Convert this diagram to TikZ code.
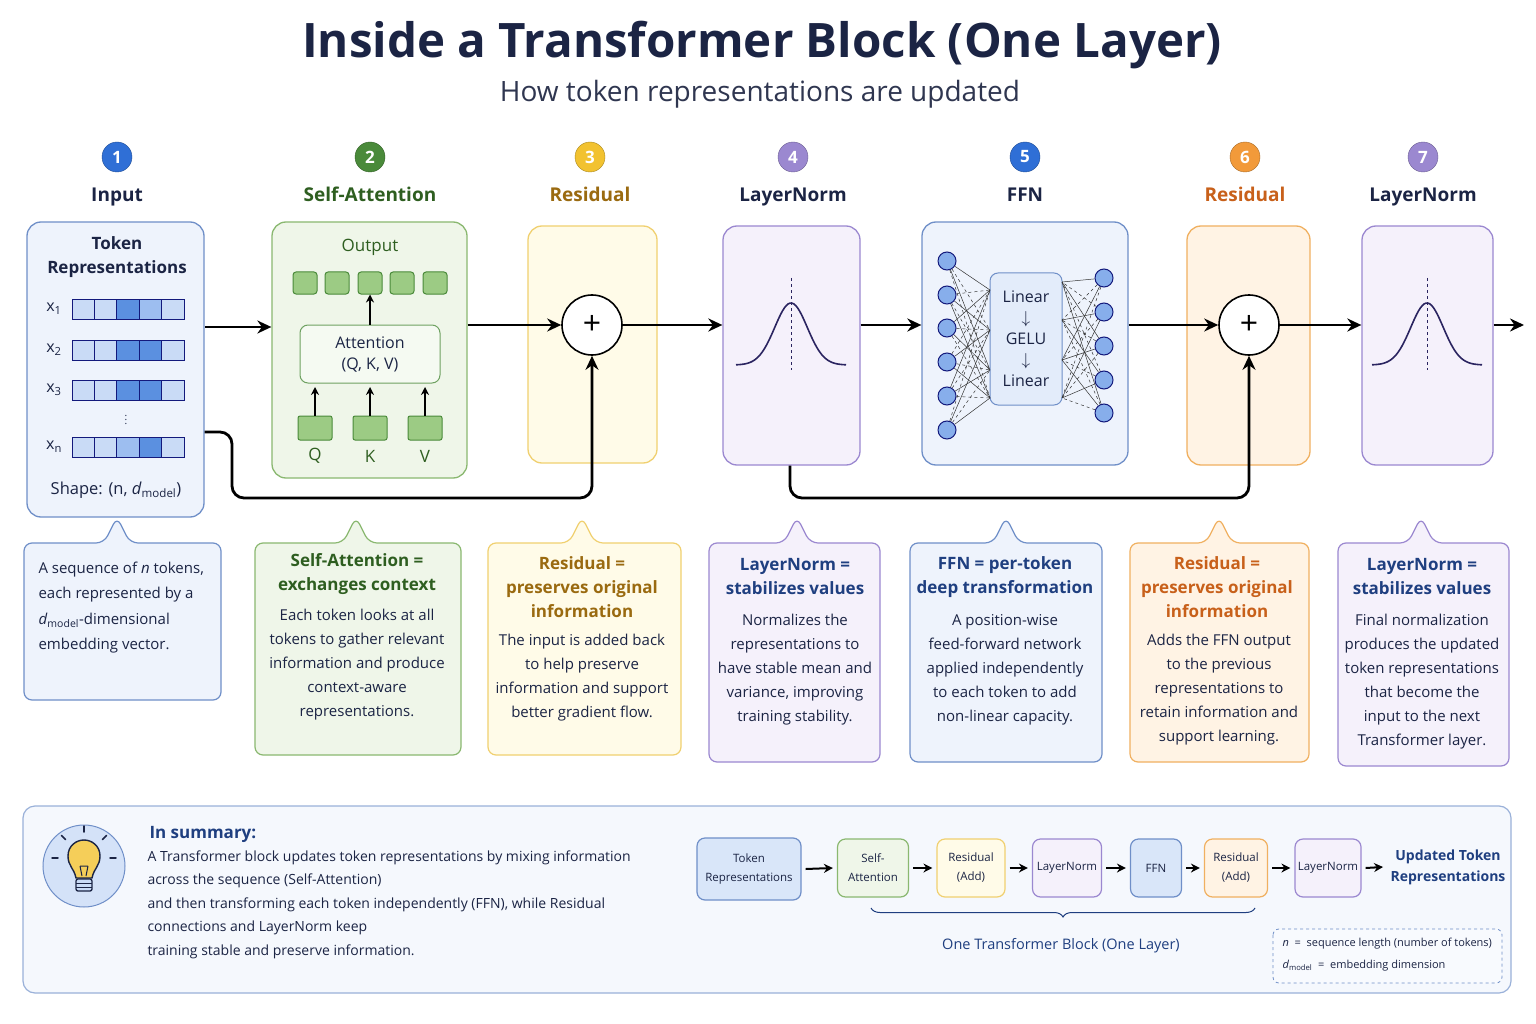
\documentclass[tikz,border=0pt]{standalone}
\usepackage{fontspec}
\setmainfont{Open Sans}
\usetikzlibrary{arrows.meta,calc,decorations.pathreplacing}
\definecolor{navy}{HTML}{1B2444}
\definecolor{bS}{HTML}{6F8FC8}\definecolor{bF}{HTML}{EEF3FC}
\definecolor{gS}{HTML}{8AB870}\definecolor{gF}{HTML}{EFF6E9}
\definecolor{yS}{HTML}{F0D070}\definecolor{yF}{HTML}{FFFBE8}
\definecolor{pS}{HTML}{9B88D0}\definecolor{pF}{HTML}{F5F1FB}
\definecolor{oS}{HTML}{F0B060}\definecolor{oF}{HTML}{FFF3E4}
\definecolor{cB}{HTML}{2F6FD6}\definecolor{cG}{HTML}{4A8A3A}\definecolor{cY}{HTML}{F2C230}
\definecolor{cP}{HTML}{9B88D0}\definecolor{cO}{HTML}{F29A3A}
\definecolor{tG}{HTML}{2E5E20}\definecolor{tY}{HTML}{9A6A10}\definecolor{tO}{HTML}{C8601A}
\definecolor{tB}{HTML}{1F3F80}\definecolor{tP}{HTML}{2A2460}
\definecolor{c1}{HTML}{C9DBF6}\definecolor{c2}{HTML}{9DBEF0}\definecolor{c3}{HTML}{5B90E0}
\definecolor{gB}{HTML}{9CCB84}
\begin{document}
\begin{tikzpicture}[x=1pt,y=-1pt,
 arr/.style={-{Stealth[length=14pt,width=13pt]},line width=2.8pt,black},
 sarr/.style={-{Stealth[length=8pt,width=8pt]},line width=1.8pt,black},
 num/.style={circle,minimum size=30pt,inner sep=0,text=white,font=\fontsize{17}{17}\selectfont\bfseries},
 hdr/.style={font=\fontsize{19}{19}\selectfont\bfseries},
 panel/.style={rounded corners=14pt,line width=1.3pt},
 desc/.style={align=center,font=\fontsize{15}{24}\selectfont,text=navy},
 dhd/.style={align=center,font=\fontsize{17}{24}\selectfont\bfseries},
 fb/.style={rounded corners=8pt,line width=1.2pt,minimum height=58pt,align=center,font=\fontsize{11.5}{19}\selectfont,text=navy,inner sep=1pt},
]
\useasboundingbox (0,0) rectangle (1536,1024);
\fill[white] (0,0) rectangle (1536,1024);
\node[font=\fontsize{47.5}{48}\selectfont\bfseries,text=navy] (title) at (762,45) {Inside a Transformer Block (One Layer)};
\node[font=\fontsize{28}{28}\selectfont,text=navy!80!gray] (sub) at (760,94) {How token representations are updated};
% numbers and headers
\foreach \x/\n/\c/\t/\tc in {117/1/cB/Input/navy,370/2/cG/Self-Attention/tG,590/3/cY/Residual/tY,793/4/cP/LayerNorm/navy,1025/5/cB/FFN/navy,1245/6/cO/Residual/tO,1423/7/cP/LayerNorm/navy}{
 \node[num,fill=\c,draw=\c!70!black] (n\n) at (\x,157) {\n};
 \node[hdr,text=\tc,anchor=base] (h\n) at (\x,202) {\t};}
% panels
\node[panel,draw=bS,fill=bF,minimum width=177pt,minimum height=295pt] (inp) at (115.5,369.5) {};
\node[panel,draw=gS,fill=gF,minimum width=195pt,minimum height=256pt] (sa) at (369.5,350) {};
\node[panel,draw=yS,fill=yF,minimum width=129pt,minimum height=237pt] (res1) at (592.5,344.5) {};
\node[panel,draw=pS,fill=pF,minimum width=137pt,minimum height=239pt] (ln1) at (791.5,345.5) {};
\node[panel,draw=bS,fill=bF,minimum width=206pt,minimum height=243pt] (ffn) at (1025,343.5) {};
\node[panel,draw=oS,fill=oF,minimum width=123pt,minimum height=239pt] (res2) at (1248.5,345.5) {};
\node[panel,draw=pS,fill=pF,minimum width=131pt,minimum height=239pt] (ln2) at (1427.5,345.5) {};
% input content
\node[align=center,font=\fontsize{17}{24}\selectfont\bfseries,text=navy] (tr) at (117,257) {Token\\Representations};
\foreach \y/\s/\a/\b/\c/\d/\e in {309/1/c1/c1/c3/c2/c1,350/2/c1/c1/c3/c3/c1,390/3/c1/c1/c3/c3/c1,447/n/c1/c1/c2/c3/c1}{
 \node[font=\fontsize{16}{16}\selectfont,text=navy] (x\s) at (54,\y) {x\textsubscript{\s}};
 \foreach \i/\cc in {0/\a,1/\b,2/\c,3/\d,4/\e}{\filldraw[fill=\cc,draw=navy!70!blue,line width=1pt] (72+\i*22.4,\y-10) rectangle (72+\i*22.4+22.4,\y+10);}}
\node[text=navy] (dots) at (126,417) {$\vdots$};
\node[font=\fontsize{16.5}{17}\selectfont,text=navy] (shape) at (116,490) {Shape: (n, \textit{d}\textsubscript{model})};
% SA content
\node[font=\fontsize{17}{17}\selectfont,text=tG] (out) at (370,247) {Output};
\foreach \x [count=\i] in {305,337,370,402,435}{\node[draw=cG,fill=gB,rounded corners=3pt,minimum width=24pt,minimum height=22pt,line width=1pt] (o\i) at (\x,283) {};}
\node[draw=cG!80,fill=gF!60!white,rounded corners=8pt,minimum width=140pt,minimum height=58pt,align=center,font=\fontsize{16}{21}\selectfont,text=navy,line width=1pt] (att) at (370,354) {Attention\\(Q, K, V)};
\draw[sarr] (att.north) -- (o3.south);
\foreach \x/\l in {315/Q,370/K,425/V}{
 \node[draw=cG,fill=gB,minimum width=34pt,minimum height=24pt,line width=1pt,rounded corners=2pt] (b\l) at (\x,428) {};
 \node[font=\fontsize{17}{17}\selectfont,text=tG] (t\l) at (\x,456) {\l};
 \draw[sarr] (b\l.north) -- (\x,387);}
% plus nodes
\node[circle,draw=black,fill=white,line width=1.6pt,minimum size=60pt,font=\fontsize{32}{32}\selectfont] (p1) at (592,325) {+};
\node[circle,draw=black,fill=white,line width=1.6pt,minimum size=60pt,font=\fontsize{32}{32}\selectfont] (p2) at (1249,325) {+};
% gaussians
\foreach \cx/\nm in {791/g1,1427/g2}{
 \coordinate (\nm) at (\cx,305);
 \draw[line width=1.6pt,color=tP,domain=-55:55,samples=60] plot ({\cx+\x},{365-62*exp(-(\x/23)^2)});
 \draw[dashed,line width=1pt,color=tP] (\cx,278) -- (\cx,370);}
% FFN
\node[draw=bS,fill=bF!70!c1,rounded corners=8pt,minimum width=72pt,minimum height=132pt,line width=1pt,align=center,font=\fontsize{16}{21}\selectfont,text=navy] (mid) at (1026,339) {Linear\\$\downarrow$\\GELU\\$\downarrow$\\Linear};
\foreach \y [count=\i] in {261,295,328,362,396,430}{\node[circle,draw=navy!70!blue,fill=c2!80!cB,minimum size=18pt,inner sep=0,line width=1pt] (L\i) at (947,\y) {};}
\foreach \y [count=\i] in {278,312,346,380,413}{\node[circle,draw=navy!70!blue,fill=c2!80!cB,minimum size=18pt,inner sep=0,line width=1pt] (R\i) at (1104,\y) {};}
\foreach \i in {1,...,6}{\foreach \t [count=\j] in {290,330,370,398}{
 \pgfmathparse{mod(\i+\j,2)==0?"solid":"dashed"}\edef\st{\pgfmathresult}
 \draw[\st,line width=0.5pt,black!80] (L\i) -- (990,\t);}}
\foreach \i in {1,...,5}{\foreach \t [count=\j] in {282,320,360,398}{
 \pgfmathparse{mod(\i+\j,2)==0?"solid":"dashed"}\edef\st{\pgfmathresult}
 \draw[\st,line width=0.5pt,black!80] (R\i) -- (1062,\t);}}
% main arrows
\draw[arr] (205,327) -- (sa.west|-205,327);
\draw[arr] (sa.east|-0,325) -- (p1.west);
\draw[arr] (p1.east) -- (ln1.west|-0,325);
\draw[arr] (ln1.east|-0,325) -- (ffn.west|-0,325);
\draw[arr] (ffn.east|-0,325) -- (p2.west);
\draw[arr] (p2.east) -- (ln2.west|-0,325);
\coordinate (end) at (1524,325);
\draw[arr] (ln2.east|-0,325) -- (end);
\draw[arr,rounded corners=12pt] (inp.east|-0,432) -- (232,432) -- (232,498) -- (592,498) -- (p1.south);
\draw[arr,rounded corners=12pt] (ln1.south-|790,0) -- (790,498) -- (1249,498) -- (p2.south);
% callouts
\newcommand\callout[7]{\draw[fill=#6,draw=#7,line width=1.2pt,rounded corners=8pt] (#1,#2) -- ([sharp corners]#5-13,#2) -- ([sharp corners]#5,#2-26) -- ([sharp corners]#5+13,#2) -- (#3,#2) -- (#3,#4) -- (#1,#4) -- cycle;}
\callout{24}{543}{221}{700}{117}{bF}{bS}
\callout{255}{543}{461}{755}{356}{gF}{gS}
\callout{488}{543}{681}{755}{582}{yF}{yS}
\callout{709}{543}{880}{762}{797}{pF}{pS}
\callout{910}{543}{1102}{762}{1006}{bF}{bS}
\callout{1130}{543}{1309}{762}{1219}{oF}{oS}
\callout{1338}{543}{1509}{766}{1421}{pF}{pS}
\node[align=left,anchor=north west,font=\fontsize{15}{25.5}\selectfont,text=navy] (d1) at (35,558) {A sequence of \textit{n} tokens,\\each represented by a\\\textit{d}\textsubscript{model}-dimensional\\embedding vector.};
\node[dhd,text=tG] (h2d) at (357,574) {Self-Attention =\\exchanges context};
\node[desc,anchor=north] (d2) at (357,606) {Each token looks at all\\tokens to gather relevant\\information and produce\\context-aware\\representations.};
\node[dhd,text=tY] (h3d) at (582,587) {Residual =\\preserves original\\information};
\node[desc,anchor=north] (d3) at (582,631) {The input is added back\\to help preserve\\information and support\\better gradient flow.};
\node[dhd,text=tB] (h4d) at (795,577) {LayerNorm =\\stabilizes values};
\node[desc,anchor=north] (d4) at (795,611) {Normalizes the\\representations to\\have stable mean and\\variance, improving\\training stability.};
\node[dhd,text=tB] (h5d) at (1005,577) {FFN = per-token\\deep transformation};
\node[desc,anchor=north] (d5) at (1005,611) {A position-wise\\feed-forward network\\applied independently\\to each token to add\\non-linear capacity.};
\node[dhd,text=tO] (h6d) at (1217,587) {Residual =\\preserves original\\information};
\node[desc,anchor=north] (d6) at (1219,631) {Adds the FFN output\\to the previous\\representations to\\retain information and\\support learning.};
\node[dhd,text=tB] (h7d) at (1422,577) {LayerNorm =\\stabilizes values};
\node[desc,anchor=north] (d7) at (1422,611) {Final normalization\\produces the updated\\token representations\\that become the\\input to the next\\Transformer layer.};
% summary
\draw[fill=bF!60!white,draw=bS!70,line width=1.2pt,rounded corners=12pt] (23,806) rectangle (1511,993);
\node[circle,fill=c1!80,draw=bS,line width=1pt,minimum size=82pt] (bulb) at (84,866) {};
\draw[fill=cY!80!white,draw=navy,line width=1.4pt] (76,878) .. controls (74,868) and (68,866) .. (68,856) .. controls (68,846) and (76,840) .. (84,840) .. controls (92,840) and (100,846) .. (100,856) .. controls (100,866) and (94,868) .. (92,878) -- cycle;
\draw[fill=c1,draw=navy,line width=1.3pt,rounded corners=2pt] (76,879) rectangle (92,891);
\draw[navy,line width=1pt] (76,883) -- (92,883) (76,887) -- (92,887);
\draw[navy,line width=1pt] (80,866) -- (82,876) (88,866) -- (86,876) (80,866) -- (88,866);
\foreach \a in {-90,-45,-135,0,180}{\draw[navy,line width=1.5pt,line cap=round] ($(84,858)+(\a:26)$) -- ($(84,858)+(\a:32)$);}
\node[anchor=west,font=\fontsize{17}{17}\selectfont\bfseries,text=tB] (ins) at (146,834) {In summary:};
\node[anchor=north west,align=left,font=\fontsize{14}{23.5}\selectfont,text=navy] (sumt) at (144,847) {A Transformer block updates token representations by mixing information\\across the sequence (Self-Attention)\\and then transforming each token independently (FFN), while Residual\\connections and LayerNorm keep\\training stable and preserve information.};
\node[fb,draw=bS,fill=c1!70!white,minimum width=104pt,minimum height=62pt] (f1) at (749,869) {Token\\Representations};
\node[fb,draw=gS,fill=gF,minimum width=71pt] (f2) at (873,868) {Self-\\Attention};
\node[fb,draw=yS,fill=yF,minimum width=68pt] (f3) at (971,868) {Residual\\(Add)};
\node[fb,draw=pS,fill=pF,minimum width=69pt] (f4) at (1067,868) {LayerNorm};
\node[fb,draw=bS,fill=c1!70!white,minimum width=51pt] (f5) at (1156,868) {FFN};
\node[fb,draw=oS,fill=oF,minimum width=63pt] (f6) at (1236,868) {Residual\\(Add)};
\node[fb,draw=pS,fill=pF,minimum width=66pt] (f7) at (1328,868) {LayerNorm};
\node[align=center,font=\fontsize{14}{21}\selectfont\bfseries,text=tB] (f8) at (1448,867) {Updated Token\\Representations};
\foreach \a/\b in {f1/f2,f2/f3,f3/f4,f4/f5,f5/f6,f6/f7,f7/f8}{\draw[-{Stealth[length=9pt,width=9pt]},line width=2pt] (\a.east) ++(4,0) -- ([xshift=-4pt]\b.west);}
\draw[decorate,decoration={brace,mirror,amplitude=9pt},line width=1pt,tB] (871,908) -- (1255,908);
\node[font=\fontsize{14.5}{14.5}\selectfont,text=tB] (blk) at (1061,946) {One Transformer Block (One Layer)};
\draw[dashed,draw=bS,fill=white!60!bF,rounded corners=6pt,line width=0.8pt] (1273,929) rectangle (1502,983);
\node[anchor=west,font=\fontsize{11}{11}\selectfont,text=navy] (lg1) at (1279,944) {\textit{n}\ \ =\ \ sequence length (number of tokens)};
\node[anchor=west,font=\fontsize{11}{11}\selectfont,text=navy] (lg2) at (1279,966) {\textit{d}\textsubscript{model}\ \ =\ \ embedding dimension};
\end{tikzpicture}
\end{document}
